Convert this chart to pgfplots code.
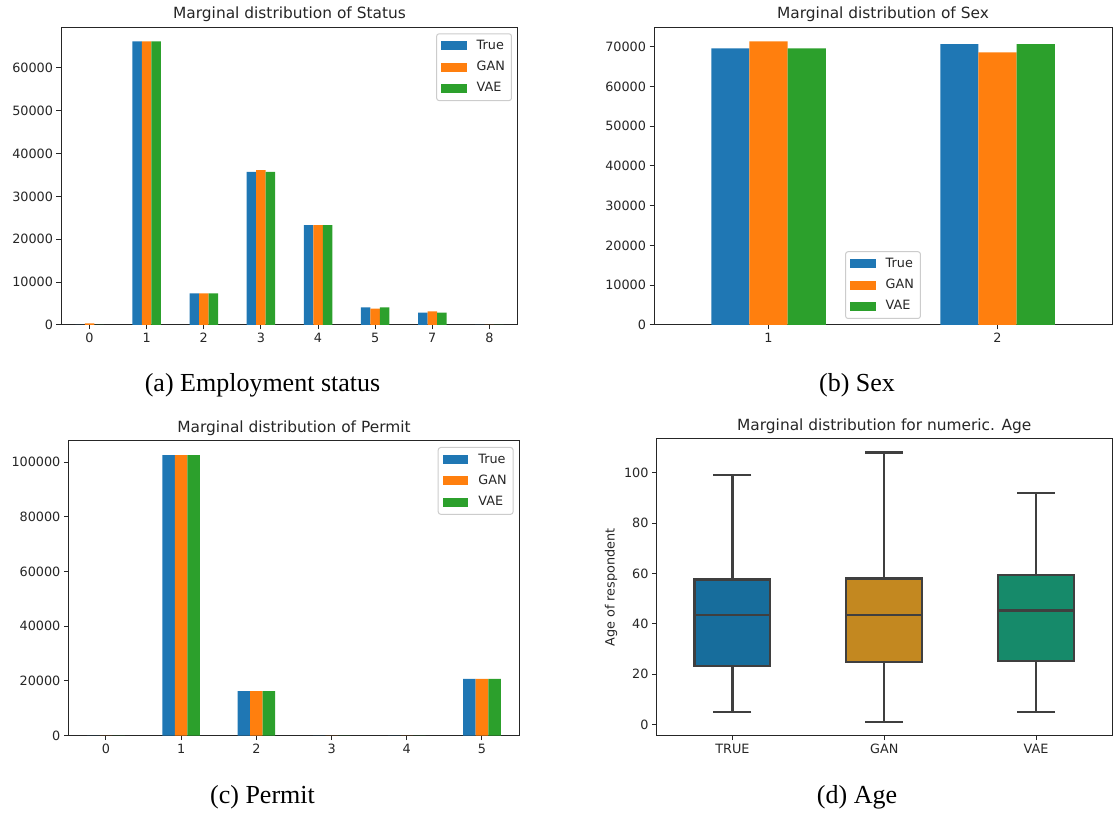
\documentclass[border=0pt]{standalone}
\usepackage{pgfplots}
\usepackage{pgfplotstable}
\pgfplotsset{compat=1.18}
\usepgfplotslibrary{statistics}
\usepackage{fontspec}
\setmainfont{DejaVu Sans}
\newfontfamily\capfont{Liberation Serif}

\definecolor{tabblue}{HTML}{1F77B4}
\definecolor{taborange}{HTML}{FF7F0E}
\definecolor{tabgreen}{HTML}{2CA02C}
\definecolor{boxA}{RGB}{23,109,156}
\definecolor{boxB}{RGB}{195,136,32}
\definecolor{boxC}{RGB}{22,138,106}
\definecolor{boxline}{RGB}{63,63,63}
\definecolor{ink}{RGB}{38,38,38}

\newcommand\ticksize{\fontsize{12.8bp}{15bp}\selectfont}
\newcommand\titlesize{\fontsize{15.4bp}{18bp}\selectfont}
\newcommand\capsize{\fontsize{26bp}{30bp}\selectfont}

% category counts per data source
\pgfplotstableread{
pos true gan vae
0 0 400 0
1 66150 66150 66150
2 7400 7400 7400
3 35750 36150 35750
4 23300 23300 23300
5 4120 3800 4120
6 2870 3190 2870
7 0 0 0
}\statustab

\pgfplotstableread{
pos true gan vae
0 69550 71300 69550
1 70650 68550 70650
}\sextab

\pgfplotstableread{
pos true gan vae
0 0 0 0
1 102600 102600 102600
2 16300 16300 16300
3 0 0 0
4 0 0 0
5 20800 20800 20800
}\permittab

\pgfplotsset{
  margplot/.style={
    scale only axis, anchor=south west,
    enlargelimits=false,
    scaled y ticks=false, scaled x ticks=false,
    axis line style={ink, line width=1bp},
    every tick/.style={ink, line width=1bp},
    major tick length=4.5bp,
    tick align=outside,
    xtick pos=bottom, ytick pos=left,
    tick label style={font=\ticksize, text=ink},
    title style={font=\titlesize, text=ink, yshift=-4bp},
    label style={font=\ticksize, text=ink},
  },
  barplot/.style={
    margplot,
    ybar, bar width=0.166667,
    ymin=0,
    legend image code/.code={\fill[##1, sharp corners, fill opacity=1] (0bp,-4.5bp) rectangle (25.6bp,4.5bp);},
    legend cell align=left,
    legend style={font=\ticksize, text=ink, draw=black!20, rounded corners=2.5bp,
      fill=white, fill opacity=0.8, text opacity=1, line width=1bp,
      inner xsep=4.5bp, inner ysep=4.2bp, row sep=5.5bp,
      nodes={inner sep=2bp, text height=9.4bp, text depth=2.4bp},
      /tikz/every odd column/.append style={column sep=8bp}},
  },
}

\begin{document}
\begin{tikzpicture}
\path[use as bounding box] (0,0) rectangle (1114bp,816bp);

% (a) employment status
\begin{axis}[barplot, at={(61bp,491bp)}, width=457bp, height=297.7bp,
  title={Marginal distribution of Status},
  xmin=-0.5, xmax=7.5, ymax=69460,
  xtick={0,...,7}, xticklabels={0,1,2,3,4,5,7,8},
  ytick={0,10000,20000,30000,40000,50000,60000},
  yticklabels={0,10000,20000,30000,40000,50000,60000},
  legend style={at={(rel axis cs:1,1)}, anchor=north east, xshift=-6bp, yshift=-6bp}]
\addplot[fill=tabblue, draw=none, bar shift=-0.166667] table[x=pos, y=true] {\statustab};
\addlegendentry{True}
\addplot[fill=taborange, draw=none, bar shift=0] table[x=pos, y=gan] {\statustab};
\addlegendentry{GAN}
\addplot[fill=tabgreen, draw=none, bar shift=0.166667] table[x=pos, y=vae] {\statustab};
\addlegendentry{VAE}
\end{axis}

% (b) sex
\begin{axis}[barplot, at={(654bp,491bp)}, width=458bp, height=297.7bp,
  title={Marginal distribution of Sex},
  xmin=-0.5, xmax=1.5, ymax=74865,
  xtick={0,1}, xticklabels={1,2},
  ytick={0,10000,20000,30000,40000,50000,60000,70000},
  yticklabels={0,10000,20000,30000,40000,50000,60000,70000},
  legend style={at={(rel axis cs:0.5,0)}, anchor=south, yshift=6bp}]
\addplot[fill=tabblue, draw=none, bar shift=-0.166667] table[x=pos, y=true] {\sextab};
\addlegendentry{True}
\addplot[fill=taborange, draw=none, bar shift=0] table[x=pos, y=gan] {\sextab};
\addlegendentry{GAN}
\addplot[fill=tabgreen, draw=none, bar shift=0.166667] table[x=pos, y=vae] {\sextab};
\addlegendentry{VAE}
\end{axis}

% (c) permit
\begin{axis}[barplot, at={(68.4bp,80.3bp)}, width=451.2bp, height=294.7bp,
  title={Marginal distribution of Permit},
  xmin=-0.5, xmax=5.5, ymax=107730,
  xtick={0,...,5}, xticklabels={0,1,2,3,4,5},
  ytick={0,20000,40000,60000,80000,100000},
  yticklabels={0,20000,40000,60000,80000,100000},
  legend style={at={(rel axis cs:1,1)}, anchor=north east, xshift=-6bp, yshift=-6bp}]
\addplot[fill=tabblue, draw=none, bar shift=-0.166667] table[x=pos, y=true] {\permittab};
\addlegendentry{True}
\addplot[fill=taborange, draw=none, bar shift=0] table[x=pos, y=gan] {\permittab};
\addlegendentry{GAN}
\addplot[fill=tabgreen, draw=none, bar shift=0.166667] table[x=pos, y=vae] {\permittab};
\addlegendentry{VAE}
\end{axis}

% (d) age
\begin{axis}[margplot, at={(656.5bp,80.3bp)}, width=455.5bp, height=296.7bp,
  title={Marginal distribution for numeric. Age},
  ylabel={Age of respondent},
  xmin=-0.5, xmax=2.5, ymin=-4.35, ymax=113.35,
  xtick={0,1,2}, xticklabels={TRUE,GAN,VAE},
  ytick={0,20,40,60,80,100}, yticklabels={0,20,40,60,80,100},
  boxplot/draw direction=y,
  boxplot/box extend=0.5,
  boxplot/whisker extend=0.25]
\addplot[boxplot prepared={lower whisker=5, lower quartile=23.4, median=43.6,
    upper quartile=57.6, upper whisker=99, draw position=0},
  fill=boxA, draw=boxline, line width=2.2bp] coordinates {};
\addplot[boxplot prepared={lower whisker=1, lower quartile=24.8, median=43.6,
    upper quartile=58, upper whisker=108, draw position=1},
  fill=boxB, draw=boxline, line width=2.2bp] coordinates {};
\addplot[boxplot prepared={lower whisker=5, lower quartile=25.3, median=45.3,
    upper quartile=59.5, upper whisker=92, draw position=2},
  fill=boxC, draw=boxline, line width=2.2bp] coordinates {};
\end{axis}

% sub-figure captions
\node[font=\capfont\capsize, anchor=base] at (262.5bp,424bp) {(a) Employment status};
\node[font=\capfont\capsize, anchor=base] at (857bp,424bp) {(b) Sex};
\node[font=\capfont\capsize, anchor=base] at (262.5bp,13bp) {(c) Permit};
\node[font=\capfont\capsize, anchor=base] at (857bp,13bp) {(d) Age};
\end{tikzpicture}
\end{document}
